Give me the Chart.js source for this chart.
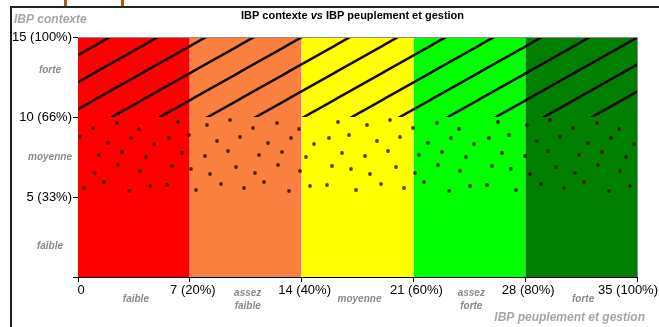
<!DOCTYPE html>
<html>
<head>
<meta charset="utf-8">
<script src="https://cdn.jsdelivr.net/npm/chart.js@4.4.1/dist/chart.umd.min.js"></script>
<style>
  html, body { margin: 0; padding: 0; background: #fff; }
  #wrap { position: relative; width: 659px; height: 327px; overflow: hidden; }
  #frame { position: absolute; left: 10px; top: 6px; width: 660px; height: 330px; border-left: 2px solid #222; border-top: 2px solid #222; }
  .tab { position: absolute; top: 0; width: 3px; height: 6px; background: #b4531f; }
  #chart { position: absolute; left: 0; top: 0; }
</style>
</head>
<body>
<div id="wrap">
  <div id="frame"></div>
  <div class="tab" style="left:64px"></div>
  <div class="tab" style="left:121px"></div>
  <canvas id="chart" width="659" height="327"></canvas>
</div>
<script>
const FONT = "'Liberation Sans', Arial, sans-serif";

// x: IBP peuplement et gestion (0..35), y: IBP contexte (0..15)
const bandEdges = [0, 7, 14, 21, 28, 35];
const bandColors = ["#ff0000", "#f9803f", "#ffff00", "#00ff00", "#007f00"];
const xTickLabels = ["0", "7 (20%)", "14 (40%)", "21 (60%)", "28 (80%)", "35 (100%)"];
const xZoneLabels = [["faible"], ["assez", "faible"], ["moyenne"], ["assez", "forte"], ["forte"]];

const yEdges = [0, 5, 10, 15];
const yTickLabels = ["", "5 (33%)", "10 (66%)", "15 (100%)"];
const yZoneLabels = ["faible", "moyenne", "forte"];

// diagonal hatching for the "forte" context zone
function makeHatch() {
  const w = 48, h = 27;
  const c = document.createElement("canvas");
  c.width = w; c.height = h;
  const g = c.getContext("2d");
  g.strokeStyle = "#140800";
  g.lineWidth = 2.4;
  for (const k of [-1, 0, 1]) {
    g.beginPath();
    g.moveTo(-w, 2 * h + k * h);
    g.lineTo(2 * w, k * h - h);
    g.stroke();
  }
  const p = g.createPattern(c, "repeat");
  p.setTransform(new DOMMatrix().translate(0, 18));
  return p;
}

// scattered dots for the "moyenne" context zone
const dotSpots = [
  [12, 6], [31, 9], [50, 14], [76, 7], [95, 13], [118, 5], [140, 11],
  [7, 25], [36, 30], [61, 24], [84, 28], [104, 22], [129, 31], [150, 26],
  [18, 42], [47, 45], [70, 40], [93, 48], [117, 43], [139, 49],
  [9, 58], [29, 55], [57, 61], [80, 57], [108, 63], [131, 58], [154, 64],
  [22, 73], [45, 76], [68, 71], [99, 75], [122, 72], [146, 77]
];
function makeDots() {
  const c = document.createElement("canvas");
  c.width = 160; c.height = 80;
  const g = c.getContext("2d");
  g.fillStyle = "rgba(55,20,0,0.85)";
  dotSpots.forEach(([x, y]) => {
    g.beginPath();
    g.arc(x, y, 1.9, 0, Math.PI * 2);
    g.fill();
  });
  return g.createPattern(c, "repeat");
}

const zone = (data, fill, bg, order) => ({
  data, fill, backgroundColor: bg, order,
  borderColor: "transparent", borderWidth: 0, pointRadius: 0, showLine: true
});

const datasets = [
  zone([{ x: 0, y: yEdges[3] }, { x: 35, y: yEdges[3] }], { value: yEdges[2] }, makeHatch(), 0),
  zone([{ x: 0, y: yEdges[2] }, { x: 35, y: yEdges[2] }], { value: yEdges[1] }, makeDots(), 0)
];
bandColors.forEach((col, i) => {
  datasets.push(zone([{ x: bandEdges[i], y: 15 }, { x: bandEdges[i + 1], y: 15 }], "origin", col, 1));
});

const decor = {
  id: "decor",
  afterDatasetsDraw(chart) {
    const { ctx, chartArea: a } = chart;
    ctx.save();
    ctx.strokeStyle = "#8c8c8c";
    ctx.lineWidth = 1;
    ctx.beginPath();
    ctx.moveTo(a.left, a.top + 0.5);
    ctx.lineTo(a.right + 0.5, a.top + 0.5);
    ctx.lineTo(a.right + 0.5, a.bottom);
    ctx.stroke();
    ctx.restore();
  },
  afterDraw(chart) {
    const { ctx, chartArea: a, scales: { x, y } } = chart;
    ctx.save();
    ctx.textBaseline = "middle";

    // title, with "vs" in italics
    const parts = [["bold 11px " + FONT, "IBP contexte "], ["italic bold 11px " + FONT, "vs"], ["bold 11px " + FONT, " IBP peuplement et gestion"]];
    let total = 0;
    parts.forEach(([f, t]) => { ctx.font = f; total += ctx.measureText(t).width; });
    let tx = (a.left + a.right) / 2 - 5 - total / 2;
    ctx.fillStyle = "#000";
    ctx.textAlign = "left";
    parts.forEach(([f, t]) => { ctx.font = f; ctx.fillText(t, tx, 16); tx += ctx.measureText(t).width; });

    // axis names
    ctx.fillStyle = "#a6a6a6";
    ctx.font = "italic bold 12px " + FONT;
    ctx.fillText("IBP contexte", 14, 20);
    ctx.textAlign = "right";
    ctx.fillText("IBP peuplement et gestion", 645, 318);

    // x tick labels
    ctx.fillStyle = "#000";
    ctx.font = "13px " + FONT;
    ctx.textAlign = "left";
    bandEdges.forEach((v, i) => {
      const w = ctx.measureText(xTickLabels[i]).width;
      let left = x.getPixelForValue(v) + 3 - w / 2;
      left = Math.min(left, chart.width - w - 1);
      ctx.fillText(xTickLabels[i], left, 290);
    });

    // zone names
    ctx.fillStyle = "#8a8a8a";
    ctx.font = "italic bold 10px " + FONT;
    ctx.textAlign = "center";
    xZoneLabels.forEach((lines, i) => {
      const cx = x.getPixelForValue((bandEdges[i] + bandEdges[i + 1]) / 2) + 2;
      if (lines.length === 1) {
        ctx.fillText(lines[0], cx, 299);
      } else {
        ctx.fillText(lines[0], cx, 293);
        ctx.fillText(lines[1], cx, 306);
      }
    });
    const yShift = [9, 0, -7];
    yZoneLabels.forEach((t, i) => {
      const cy = y.getPixelForValue((yEdges[i] + yEdges[i + 1]) / 2) + yShift[i];
      ctx.fillText(t, 50, cy);
    });
    ctx.restore();
  }
};

new Chart(document.getElementById("chart"), {
  type: "line",
  data: { datasets },
  plugins: [decor],
  options: {
    responsive: false,
    animation: false,
    events: [],
    layout: { padding: { top: 37, right: 22, left: 0, bottom: 0 } },
    plugins: { legend: { display: false }, tooltip: { enabled: false } },
    scales: {
      x: {
        type: "linear", min: 0, max: 35,
        afterFit: s => { s.height = 50; },
        ticks: { stepSize: 7, display: false },
        grid: { drawOnChartArea: false, tickLength: 5, tickColor: "#000" },
        border: { color: "#000", width: 1 }
      },
      y: {
        type: "linear", min: 0, max: 15,
        afterFit: s => { s.width = 78; },
        ticks: {
          stepSize: 5, padding: 1, color: "#000",
          font: { family: FONT, size: 13 },
          callback: v => yTickLabels[yEdges.indexOf(v)]
        },
        grid: { drawOnChartArea: false, tickLength: 5, tickColor: "#000" },
        border: { color: "#000", width: 1 }
      }
    }
  }
});
</script>
</body>
</html>
